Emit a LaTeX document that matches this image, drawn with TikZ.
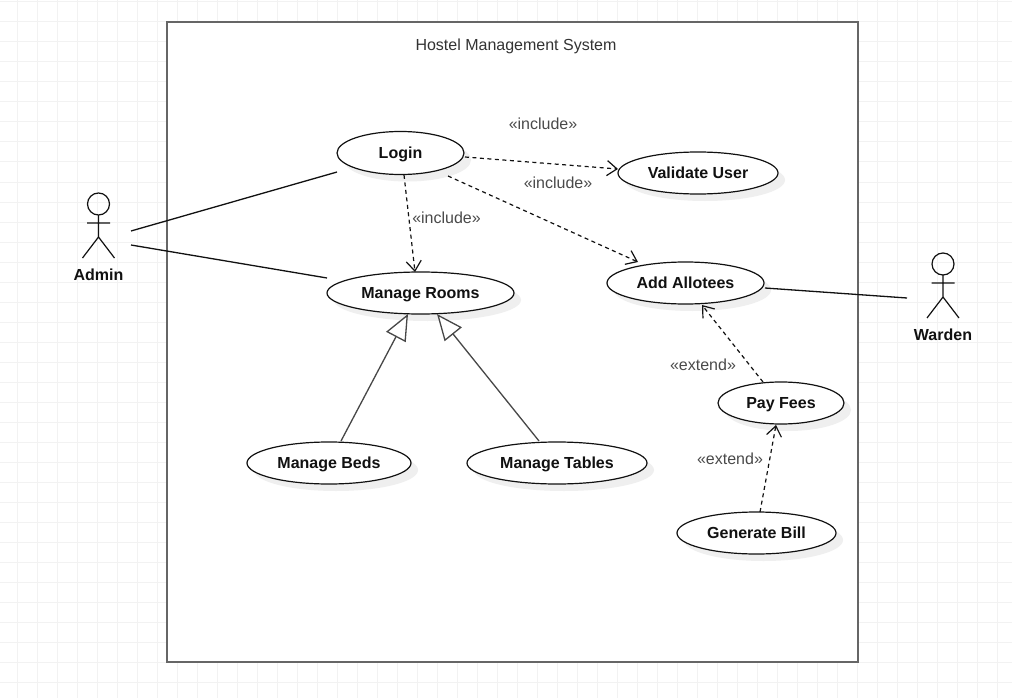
\documentclass[tikz,border=0pt]{standalone}
\usepackage{fontspec}
\setmainfont{Liberation Sans}
\usetikzlibrary{arrows.meta,calc,shapes.geometric,shadows}
\definecolor{gridc}{HTML}{F2F2F2}
\definecolor{framec}{HTML}{666666}
\definecolor{labelc}{HTML}{4A4A4A}
\definecolor{titlec}{HTML}{333333}
\definecolor{inkc}{HTML}{111111}
\definecolor{shadowc}{HTML}{EFEFEF}
\tikzset{
  usecase/.style={ellipse,draw=inkc,fill=white,line width=1.2pt,inner sep=0pt,
    text height=12pt,text depth=0.6pt,
    font=\fontsize{16}{18}\selectfont\bfseries,text=inkc,
    general shadow={shadow xshift=7pt,shadow yshift=-7pt,fill=shadowc}},
  stereo/.style={font=\fontsize{16}{18}\selectfont,text=labelc,inner sep=0pt},
  actorbox/.style={rectangle,draw=none,fill=none,inner sep=0pt},
  actorname/.style={font=\fontsize{16}{18}\selectfont\bfseries,text=inkc,inner sep=0pt},
  assoc/.style={draw=inkc,line width=1.3pt},
  dep/.style={draw=inkc,line width=1.2pt,dash pattern=on 4pt off 3.5pt,
    -{Straight Barb[length=10pt,width=15pt,line width=1.2pt]}},
  general/.style={draw=framec!70!black,line width=1.3pt,
    -{Triangle[open,length=26pt,width=22pt,fill=white,line width=1.3pt]}},
  stick/.pic={
    \draw[draw=inkc,line width=1.2pt] (0,-22) circle[radius=11pt];
    \draw[draw=inkc,line width=1.2pt] (0,-11) -- (0,11) (-11.5,-3) -- (11.5,-3)
      (-16,32) -- (0,11) -- (16,32);
  }
}
\begin{document}
\begin{tikzpicture}[x=1pt,y=-1pt]
\useasboundingbox (0,0) rectangle (1012,698);
\fill[white] (0,0) rectangle (1012,698);
\foreach \i in {0,...,49} {\draw[gridc,line width=1pt] ({17+20*\i},0) -- ({17+20*\i},698);}
\foreach \j in {0,...,34} {\draw[gridc,line width=1pt] (0,{2+20*\j}) -- (1012,{2+20*\j});}
\node[draw=framec,fill=white,line width=2pt,rectangle,inner sep=0pt,minimum width=691pt,minimum height=640pt] (system) at (512.5,342) {};
\node[font=\fontsize{16}{18}\selectfont,text=titlec,inner sep=0pt] (title) at (516,46) {Hostel Management System};

\node[usecase,minimum width=127pt,minimum height=43pt] (login) at (400.5,153) {Login};
\node[usecase,minimum width=160pt,minimum height=42pt] (validate) at (698,173) {Validate User};
\node[usecase,minimum width=187pt,minimum height=42pt] (rooms) at (420.5,293) {Manage Rooms};
\node[usecase,minimum width=157pt,minimum height=42pt] (allotees) at (685.5,283) {Add Allotees};
\node[usecase,minimum width=126pt,minimum height=42pt] (fees) at (781,403) {Pay Fees};
\node[usecase,minimum width=164pt,minimum height=42pt] (beds) at (329,463) {Manage Beds};
\node[usecase,minimum width=180pt,minimum height=42pt] (tables) at (557,463) {Manage Tables};
\node[usecase,minimum width=159pt,minimum height=42pt] (bill) at (756.5,533) {Generate Bill};

\node[actorbox,minimum width=64pt,minimum height=65pt] (admin) at (99,226) {};
\pic at (98.5,226) {stick};
\node[actorname] (adminname) at (98.5,274.5) {Admin};
\node[actorbox,minimum width=72pt,minimum height=65pt] (warden) at (943,286) {};
\pic at (943,286) {stick};
\node[actorname] (wardenname) at (943,334.5) {Warden};

\draw[assoc] ($(admin)+(32,5)$) -- ($(login)+(-63.5,19)$);
\draw[assoc] ($(admin)+(32,19)$) -- ($(rooms)+(-93.5,-15)$);
\draw[assoc] ($(allotees)+(79.5,5)$) -- ($(warden)+(-36,12)$);

\draw[dep] ($(login)+(64.5,4)$) -- ($(validate)+(-80,-4)$);
\draw[dep] ($(login)+(47.5,23)$) -- ($(allotees)+(-47.5,-21)$);
\draw[dep] ($(login)+(3.5,22)$) -- ($(rooms)+(-5.5,-21)$);
\draw[dep] ($(fees)+(-18,-21)$) -- ($(allotees)+(16.5,22)$);
\draw[dep] ($(bill)+(3.5,-21)$) -- ($(fees)+(-5,22)$);

\draw[general] ($(beds)+(12,-22)$) -- ($(rooms)+(-12.5,21)$);
\draw[general] ($(tables)+(-18,-22)$) -- ($(rooms)+(16.5,21)$);

\node[stereo] (inc1) at (543,124) {«include»};
\node[stereo] (inc2) at (558,183) {«include»};
\node[stereo] (inc3) at (446.5,218) {«include»};
\node[stereo] (ext1) at (703,365) {«extend»};
\node[stereo] (ext2) at (730,459) {«extend»};
\end{tikzpicture}
\end{document}
